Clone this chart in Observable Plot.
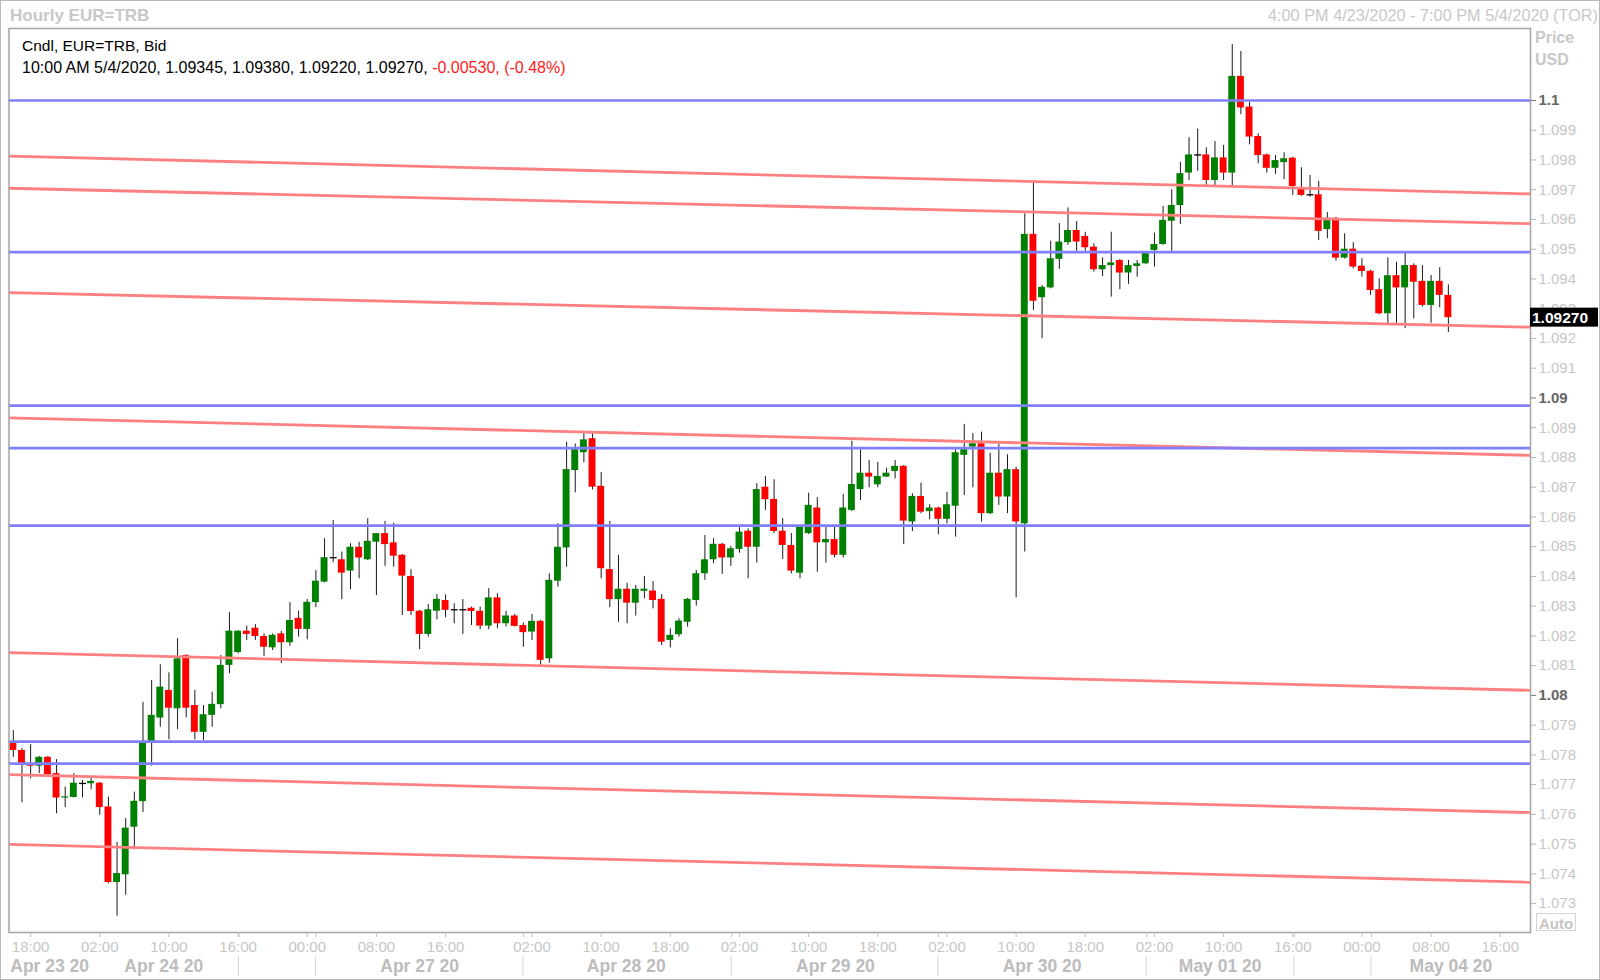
<!DOCTYPE html>
<html>
<head>
<meta charset="utf-8">
<script src="https://cdn.jsdelivr.net/npm/d3@7"></script>
<script src="https://cdn.jsdelivr.net/npm/@observablehq/plot@0.6"></script>
<style>
  html, body { margin: 0; padding: 0; background: #fff; }
  #wrap { position: relative; width: 1600px; height: 980px; overflow: hidden; font-family: "Liberation Sans", Arial, sans-serif; background: #fff; }
  #chart { position: absolute; left: 0; top: 0; }
  .t { position: absolute; white-space: nowrap; line-height: 1; }
  #border { position: absolute; left: 0; top: 0; width: 1600px; height: 980px; box-sizing: border-box; border: 1px solid #b8b8b8; pointer-events: none; }
</style>
</head>
<body>
<div id="wrap">
  <div id="chart"></div>
  <div class="t" style="left:10px;top:6.5px;font-weight:bold;font-size:17px;color:#c8c8c8;">Hourly EUR=TRB</div>
  <div class="t" style="right:2px;top:7px;font-size:16.3px;color:#c8c8c8;">4:00 PM 4/23/2020 - 7:00 PM 5/4/2020 (TOR)</div>
  <div class="t" style="left:22px;top:38px;font-size:15.5px;color:#000;">Cndl, EUR=TRB, Bid</div>
  <div class="t" id="ohlc" style="left:22px;top:59.5px;font-size:16px;color:#000;"></div>
  <div class="t" style="left:1535px;top:30px;font-weight:bold;font-size:16px;color:#c8c8c8;">Price</div>
  <div class="t" style="left:1535px;top:52px;font-weight:bold;font-size:16px;color:#c8c8c8;">USD</div>
  <div class="t" style="left:1536px;top:913px;width:40px;height:18px;box-sizing:border-box;border:1px solid #d4d4d4;font-weight:bold;font-size:15px;color:#c4c4c4;text-align:center;padding-top:1.5px;">Auto</div>
  <div id="border"></div>
</div>
<script>
// ---- Hourly EUR=TRB candles (Apr 23 16:00 -> May 4 10:00), index = candle slot ----
const open = [
1.07841,1.07815,1.0777,1.07762,1.07792,1.07737,1.07655,1.07657,1.07704,1.07703,
1.07705,1.07625,1.07371,1.07397,1.07557,1.07643,1.0784,1.07924,1.08017,1.07955,
1.08134,1.07966,1.07876,1.07933,1.07969,1.08101,1.08144,1.08216,1.08226,1.08198,
1.0816,1.08207,1.08177,1.08259,1.08222,1.08312,1.08381,1.08463,1.08456,1.08418,
1.08498,1.08456,1.08515,1.08544,1.08513,1.08471,1.084,1.08283,1.08205,1.08283,
1.08319,1.08288,1.08288,1.08293,1.08283,1.08233,1.08328,1.08241,1.08267,1.08235,
1.08213,1.08249,1.08123,1.08384,1.08496,1.08756,1.08816,1.08863,1.08703,1.08423,
1.08322,1.08357,1.0831,1.0835,1.08351,1.08323,1.08185,1.08204,1.08246,1.08319,
1.08409,1.08456,1.08508,1.08462,1.08491,1.08552,1.08498,1.087,1.08659,1.08552,
1.08504,1.08411,1.08544,1.0863,1.08513,1.08524,1.08471,1.08622,1.08692,1.08747,
1.08708,1.08734,1.08753,1.0877,1.08583,1.08669,1.08618,1.0863,1.08592,1.08636,
1.08807,1.08835,1.08846,1.08611,1.08747,1.08667,1.08759,1.08577,1.0955,1.09337,
1.0937,1.09466,1.09522,1.09563,1.09543,1.09507,1.09431,1.09445,1.09462,1.0942,
1.09442,1.09451,1.09496,1.09516,1.09594,1.09647,1.09756,1.09817,1.09817,1.09731,
1.09807,1.09756,1.10081,1.09978,1.09879,1.09817,1.09772,1.09791,1.09806,1.09703,
1.09683,1.09683,1.09566,1.09604,1.0947,1.095,1.09443,1.09426,1.09364,1.09283,
1.09411,1.0937,1.09445,1.09392,1.09311,1.09392,1.09345
];
const high = [
1.07882,1.07821,1.07835,1.07795,1.07795,1.07784,1.07692,1.07737,1.07714,1.07722,
1.07708,1.07658,1.07506,1.07586,1.07675,1.07977,1.0805,1.08103,1.08076,1.08191,
1.08137,1.08017,1.07966,1.08011,1.08134,1.08278,1.08218,1.08233,1.08238,1.08207,
1.08207,1.08215,1.08312,1.08283,1.08323,1.0842,1.08527,1.08588,1.08482,1.0851,
1.08515,1.08594,1.08544,1.08585,1.08579,1.08474,1.08423,1.08286,1.08306,1.08339,
1.08338,1.08308,1.08322,1.08297,1.08297,1.08359,1.08342,1.08283,1.08272,1.08243,
1.08272,1.08252,1.08409,1.08577,1.08851,1.08845,1.0888,1.0888,1.08749,1.08585,
1.08471,1.08377,1.0837,1.084,1.08383,1.08339,1.08224,1.08258,1.08326,1.0842,
1.08538,1.08527,1.08511,1.08501,1.08564,1.0856,1.08712,1.08736,1.08725,1.08594,
1.08544,1.08571,1.0868,1.08665,1.08568,1.08568,1.08676,1.08855,1.08826,1.0879,
1.08783,1.08764,1.0879,1.08773,1.08678,1.08714,1.08641,1.08633,1.08683,1.08826,
1.08911,1.0888,1.08885,1.08814,1.08844,1.08809,1.08767,1.09619,1.09722,1.09378,
1.09527,1.09586,1.09639,1.09593,1.09557,1.09518,1.09471,1.09557,1.09465,1.09462,
1.09462,1.0949,1.09554,1.09644,1.097,1.09792,1.09875,1.09904,1.09841,1.09862,
1.09849,1.10188,1.10165,1.09994,1.09888,1.0982,1.09815,1.09824,1.09809,1.09774,
1.09748,1.09728,1.09623,1.09607,1.09552,1.09522,1.09468,1.09429,1.09401,1.09471,
1.09456,1.09487,1.09451,1.09445,1.09412,1.09438,1.0938
];
const low = [
1.07791,1.07639,1.0772,1.07737,1.07731,1.07602,1.07623,1.07655,1.07655,1.07683,
1.07597,1.07367,1.07258,1.07328,1.07481,1.07606,1.07762,1.07893,1.07851,1.07885,
1.07925,1.07851,1.07849,1.07893,1.07955,1.08073,1.0814,1.08185,1.08185,1.08131,
1.08151,1.08107,1.08165,1.08196,1.08187,1.08295,1.08378,1.08446,1.08322,1.08355,
1.08392,1.08453,1.08336,1.08434,1.08431,1.08269,1.08269,1.08154,1.08196,1.08254,
1.08261,1.08241,1.08205,1.08235,1.08221,1.08221,1.08224,1.0823,1.0823,1.08162,
1.08185,1.08101,1.08108,1.08364,1.08431,1.08681,1.08782,1.08691,1.08392,1.08295,
1.08246,1.08241,1.08267,1.08325,1.08291,1.08168,1.0816,1.08196,1.0823,1.083,
1.08387,1.08443,1.08407,1.08434,1.08478,1.08392,1.08445,1.08622,1.08544,1.08457,
1.08409,1.08392,1.08541,1.08414,1.08445,1.08462,1.08462,1.08618,1.08655,1.08698,
1.08698,1.08732,1.08728,1.08507,1.08551,1.08611,1.08591,1.0854,1.08577,1.08532,
1.08672,1.08698,1.08583,1.08608,1.08639,1.08611,1.08328,1.08482,1.09294,1.09199,
1.09367,1.09432,1.09513,1.09493,1.09493,1.09423,1.09408,1.09339,1.09364,1.09382,
1.09406,1.09448,1.0944,1.09513,1.09493,1.09583,1.09731,1.09762,1.09714,1.09714,
1.09731,1.09714,1.09952,1.09851,1.09787,1.09756,1.09751,1.09734,1.09681,1.09678,
1.09675,1.09529,1.09535,1.0946,1.09467,1.09434,1.09406,1.09345,1.0928,1.09249,
1.09251,1.09233,1.09266,1.09305,1.09251,1.09303,1.0922
];
const close = [
1.07815,1.07765,1.07762,1.07792,1.07734,1.07655,1.07659,1.07705,1.07704,1.07711,
1.07623,1.07371,1.07401,1.07554,1.07644,1.0784,1.07933,1.08028,1.07957,1.08123,
1.07957,1.07876,1.07935,1.0797,1.08101,1.08216,1.08216,1.08205,1.08198,1.08162,
1.08202,1.08177,1.08252,1.08222,1.08313,1.08384,1.08463,1.08463,1.08411,1.08498,
1.08462,1.08518,1.08544,1.08507,1.08468,1.08401,1.08282,1.08205,1.08288,1.08323,
1.08286,1.08288,1.08288,1.08282,1.08233,1.08328,1.08241,1.08267,1.08232,1.08211,
1.08249,1.08118,1.08387,1.08498,1.08759,1.08826,1.08859,1.087,1.08426,1.08322,
1.08357,1.0831,1.08357,1.08357,1.08319,1.08179,1.08202,1.0825,1.08323,1.08409,
1.08456,1.08508,1.08462,1.08493,1.08549,1.08498,1.08692,1.08658,1.08551,1.08504,
1.08418,1.08568,1.08639,1.08513,1.08524,1.08471,1.0863,1.08709,1.08747,1.08734,
1.08736,1.08747,1.0877,1.08586,1.08669,1.08616,1.0863,1.08592,1.08641,1.08816,
1.08826,1.08846,1.08611,1.08747,1.08667,1.08759,1.08583,1.0955,1.09325,1.09372,
1.09468,1.09524,1.09563,1.09524,1.09505,1.09431,1.09445,1.09454,1.0942,1.09445,
1.09451,1.09487,1.09516,1.09597,1.09647,1.09754,1.09817,1.09817,1.09731,1.09807,
1.09756,1.10081,1.09975,1.09877,1.09815,1.09772,1.09798,1.09804,1.09711,1.09681,
1.09683,1.0956,1.09604,1.0947,1.095,1.0944,1.09425,1.09361,1.09283,1.09411,
1.0937,1.09445,1.09389,1.09311,1.09392,1.09345,1.0927
];

// Hourly slots on the time axis (167 candles + empty slots up to 7:00 PM 5/4)
const slotCount = 176;

// Horizontal support / resistance levels (blue)
const levels = [1.1, 1.0949, 1.08974, 1.08831, 1.08571, 1.07845, 1.07771];

// Descending trend lines (red): price at the first slot edge and at the last slot edge
const trendStart = [1.09813, 1.09705, 1.09354, 1.08933, 1.08144, 1.07734, 1.07499];
const trendEnd   = [1.09686, 1.09586, 1.09238, 1.08807, 1.08017, 1.07606, 1.07372];

// Price axis
const yTicksMinor = [1.073,1.074,1.075,1.076,1.077,1.078,1.079,1.081,1.082,1.083,1.084,1.085,1.086,1.087,1.088,1.089,1.091,1.092,1.093,1.094,1.095,1.096,1.097,1.098,1.099];
const yTicksMajor = [1.08, 1.09, 1.1];

// Time axis (slot index -> label)
const timeTickIdx = [2,10,18,26,34,42,50,60,68,76,84,92,100,108,116,124,132,140,148,156,164,172];
const timeTickLabels = ["18:00","02:00","10:00","16:00","00:00","08:00","16:00","02:00","10:00","18:00","02:00","10:00","18:00","02:00","10:00","18:00","02:00","10:00","16:00","00:00","08:00","16:00"];
const dateLabels = ["Apr 23 20","Apr 24 20","Apr 27 20","Apr 28 20","Apr 29 20","Apr 30 20","May 01 20","May 04 20"];
const dateLabelIdx = [4.2, 17.4, 47.0, 70.9, 95.1, 119.0, 139.6, 166.3];
const daySepIdx = [26.1, 35.0, 59.0, 83.1, 107.0, 131.1, 148.2, 157.1];

// Header values of the last bar
const lastTime = "10:00 AM 5/4/2020";
const netChange = "-0.00530";
const pctChange = "(-0.48%)";

// ---------------------------------------------------------------
const n = open.length;
const candles = open.map((o, i) => ({i, o, h: high[i], l: low[i], c: close[i]}));
const up = candles.filter(d => d.c - d.o > 1e-7);
const down = candles.filter(d => d.o - d.c > 1e-7);
const doji = candles.filter(d => Math.abs(d.c - d.o) <= 1e-7);
const trends = trendStart.map((s, k) => ({a: s, b: trendEnd[k]}));
const timeLabelMap = new Map(timeTickIdx.map((d, k) => [d, timeTickLabels[k]]));
const dates = dateLabels.map((t, k) => ({t, x: dateLabelIdx[k]}));
const fmt = d => String(+d.toFixed(3));
const xLo = -0.5, xHi = slotCount - 0.5;
const half = 0.4;

const last = candles[n - 1];
document.getElementById("ohlc").innerHTML =
  `${lastTime}, ${last.o.toFixed(5)}, ${last.h.toFixed(5)}, ${last.l.toFixed(5)}, ${last.c.toFixed(5)}, <span style="color:#ff1a1a">${netChange}, ${pctChange}</span>`;

const plot = Plot.plot({
  width: 1600,
  height: 980,
  marginLeft: 8.5,
  marginRight: 70,
  marginTop: 28,
  marginBottom: 48,
  style: {fontFamily: '"Liberation Sans", Arial, sans-serif', background: "transparent", overflow: "visible"},
  x: {domain: [xLo, xHi], axis: null, label: null},
  y: {domain: [1.07203, 1.10242], axis: null, label: null},
  marks: [
    // wicks
    Plot.ruleX(candles, {x: "i", y1: "l", y2: "h", stroke: "#1a1a1a", strokeWidth: 1}),
    // bodies
    Plot.rect(up, {x1: d => d.i - half, x2: d => d.i + half, y1: "o", y2: "c", fill: "#008000"}),
    Plot.rect(down, {x1: d => d.i - half, x2: d => d.i + half, y1: "o", y2: "c", fill: "#ff0000"}),
    Plot.link(doji, {x1: d => d.i - half, x2: d => d.i + half, y1: "o", y2: "o", stroke: "#000", strokeWidth: 1.3}),
    // trend lines and levels
    Plot.link(trends, {x1: () => xLo, x2: () => xHi, y1: "a", y2: "b", stroke: "#ff8080", strokeWidth: 2.8}),
    Plot.ruleY(levels, {stroke: "#8080ff", strokeWidth: 2.7}),
    Plot.frame({stroke: "#a4a4a4", strokeWidth: 1.5}),
    // price axis
    Plot.axisY({ticks: yTicksMinor, anchor: "right", tickFormat: fmt, tickSize: 5, tickPadding: 3, fontSize: 15, fill: "#c6c6c6", stroke: "#b4b4b4", label: null}),
    Plot.axisY({ticks: yTicksMajor, anchor: "right", tickFormat: fmt, tickSize: 5, tickPadding: 3, fontSize: 15, fontWeight: "bold", fill: "#666", stroke: "#777", label: null}),
    // time axis
    Plot.axisX({ticks: timeTickIdx, anchor: "bottom", tickFormat: d => timeLabelMap.get(d), tickSize: 5, tickPadding: 4, fontSize: 15, fill: "#c6c6c6", stroke: "#c0c0c0", label: null}),
    Plot.axisX({ticks: daySepIdx, anchor: "bottom", tickFormat: () => "", tickSize: 5, stroke: "#c0c0c0", label: null}),
    Plot.text(dates, {x: "x", text: "t", frameAnchor: "bottom", lineAnchor: "middle", dy: 34, fontSize: 17.5, fontWeight: "bold", fill: "#bcbcbc"})
  ]
});
document.getElementById("chart").appendChild(plot);

// Decorations placed through Plot's own scales
const xs = plot.scale("x"), ys = plot.scale("y");
const svg = d3.select(plot);
const g = svg.append("g").attr("text-anchor", "start");
g.selectAll("line").data(daySepIdx).join("line")
  .attr("x1", d => xs.apply(d)).attr("x2", d => xs.apply(d))
  .attr("y1", 956).attr("y2", 976)
  .attr("stroke", "#d6d6d6").attr("stroke-width", 1);
const right = xs.range[1];
const yy = ys.apply(last.c);
g.append("rect").attr("x", right).attr("y", yy - 9.5).attr("width", 68).attr("height", 19).attr("fill", "#000");
g.append("text").attr("x", right + 2).attr("y", yy).attr("dy", "0.35em")
  .attr("text-anchor", "start")
  .attr("fill", "#fff").attr("font-weight", "bold").attr("font-size", 15.5)
  .attr("font-family", '"Liberation Sans", Arial, sans-serif')
  .text(last.c.toFixed(5));
</script>
</body>
</html>
